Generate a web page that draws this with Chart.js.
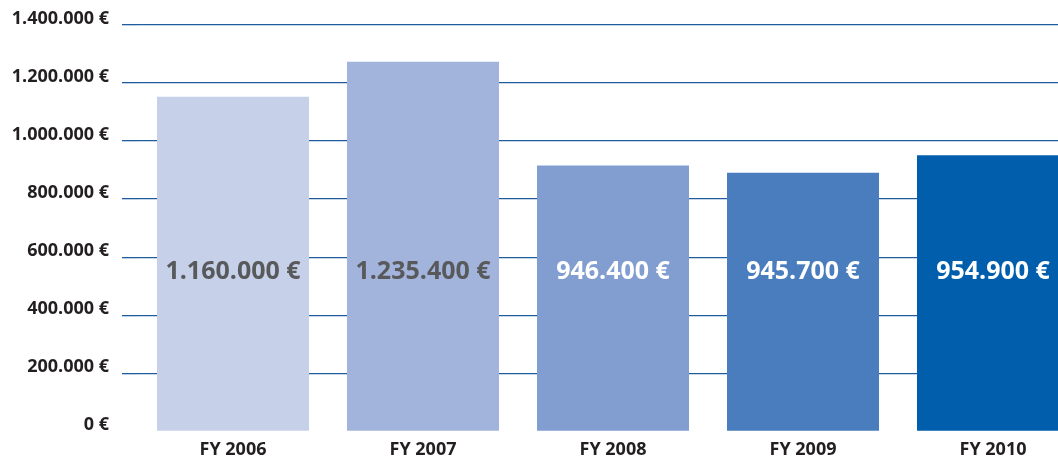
<!DOCTYPE html>
<html>
<head>
<meta charset="utf-8">
<script src="https://cdn.jsdelivr.net/npm/chart.js@4.4.1/dist/chart.umd.min.js"></script>
<style>
  html, body { margin: 0; padding: 0; background: #ffffff; overflow: hidden; }
  #wrap { width: 1058px; height: 462px; overflow: hidden; }
  canvas { display: block; }
</style>
</head>
<body>
<div id="wrap"><canvas id="c" width="1088" height="462"></canvas></div>
<script>
// ---- data ----
const categories = ['FY 2006', 'FY 2007', 'FY 2008', 'FY 2009', 'FY 2010'];
const barValues = [1153000, 1273000, 916000, 891000, 951000];
const barLabels = ['1.160.000 €', '1.235.400 €', '946.400 €', '945.700 €', '954.900 €'];
const yTickValues = [0, 200000, 400000, 600000, 800000, 1000000, 1200000, 1400000];

// ---- styles ----
const barColors = ['#c6d0e9', '#a3b4dc', '#829ed1', '#4a7dbe', '#005eac'];
const labelColors = ['#58595b', '#58595b', '#ffffff', '#ffffff', '#ffffff'];
const gridColor = '#1f5c9d';
const FONT = '"Open Sans", "Noto Sans", sans-serif';

function fmtEuro(v) {
  const s = Math.round(v).toString().replace(/\B(?=(\d{3})+(?!\d))/g, '.');
  return s + ' €';
}

const barLabelPlugin = {
  id: 'barLabels',
  afterDatasetsDraw(chart) {
    const ctx = chart.ctx;
    const meta = chart.getDatasetMeta(0);
    const area = chart.chartArea;
    const y = area.top + (area.bottom - area.top) * 0.608;
    ctx.save();
    ctx.font = 'bold 25px ' + FONT;
    ctx.textAlign = 'center';
    ctx.textBaseline = 'middle';
    meta.data.forEach((bar, i) => {
      ctx.fillStyle = labelColors[i];
      ctx.fillText(barLabels[i], bar.x, y);
    });
    ctx.restore();
  }
};

new Chart(document.getElementById('c'), {
  type: 'bar',
  data: {
    labels: categories,
    datasets: [{
      data: barValues,
      backgroundColor: barColors,
      borderWidth: 0,
      categoryPercentage: 0.8,
      barPercentage: 1.0
    }]
  },
  options: {
    responsive: false,
    animation: false,
    devicePixelRatio: 1,
    layout: { padding: { top: 25, right: 0, bottom: 0, left: 0 } },
    plugins: { legend: { display: false }, tooltip: { enabled: false } },
    scales: {
      x: {
        grid: { display: false, drawTicks: false },
        border: { display: false },
        ticks: {
          padding: 8,
          color: '#231f20',
          font: { family: FONT, size: 18, weight: 'bold' }
        },
        afterFit(scale) { scale.height = 30.7; }
      },
      y: {
        min: 0,
        max: 1400000,
        afterBuildTicks(scale) { scale.ticks = yTickValues.map(v => ({ value: v })); },
        grid: {
          color: (c) => c.tick && c.tick.value === 0 ? 'rgba(0,0,0,0)' : gridColor,
          lineWidth: 1.3,
          drawTicks: true,
          tickLength: 16
        },
        border: { display: false },
        ticks: {
          padding: 13,
          labelOffset: -6,
          color: '#231f20',
          font: { family: FONT, size: 18, weight: 'bold' },
          callback: (v) => fmtEuro(v)
        },
        afterFit(scale) { scale.width = 138; }
      }
    }
  },
  plugins: [barLabelPlugin]
});
</script>
</body>
</html>
